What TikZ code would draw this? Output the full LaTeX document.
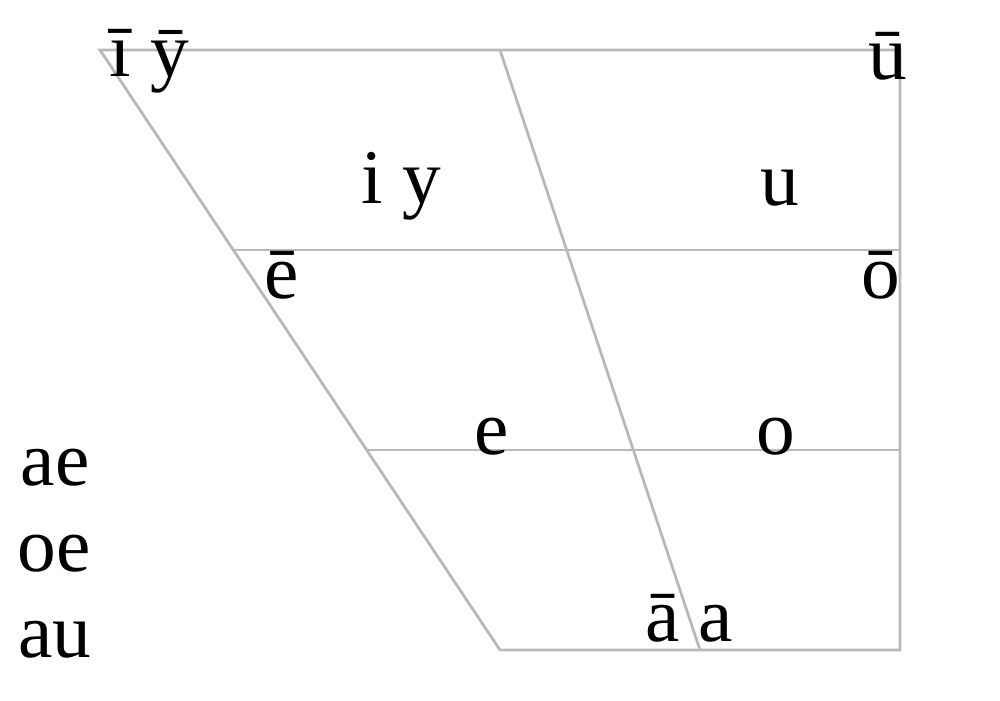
\documentclass[tikz,border=0pt]{standalone}
\usepackage{fontspec}
\setmainfont{Liberation Serif}
\usepackage{tikz}
\usetikzlibrary{positioning,calc}

\begin{document}
\begin{tikzpicture}[
    x=1cm,
    y=1cm,
    grid/.style={
      draw=gray!55,
      line width=0.8pt
    },
    vowel/.style={
      font=\fontsize{22}{26}\selectfont,
      anchor=base,
      inner sep=0pt
    }
  ]
  \useasboundingbox (0,0) rectangle (10,7);

  % ========== Chart corners ==========
  \coordinate (tl) at (1.0,6.5);
  \coordinate (tm) at (5.0,6.5);
  \coordinate (tr) at (9.0,6.5);
  \coordinate (br) at (9.0,0.5);
  \coordinate (bm) at (7.0,0.5);
  \coordinate (bl) at (5.0,0.5);

  \coordinate (ml) at ($(tl)!1/3!(bl)$);
  \coordinate (mr) at ($(tr)!1/3!(br)$);
  \coordinate (ll) at ($(tl)!2/3!(bl)$);
  \coordinate (lr) at ($(tr)!2/3!(br)$);

  \draw[grid] (tl) -- (tr) -- (br) -- (bl) -- cycle;
  \draw[grid] (tm) -- (bm);
  \draw[grid] (ml) -- (mr);
  \draw[grid] (ll) -- (lr);

  % ========== Vowels ==========
  \node[vowel] (iylong) at (1.49,6.24) {ī ȳ};
  \node[vowel] (ulong) at (8.88,6.21) {ū};
  \node[vowel] (iy) at (4.01,4.97) {i y};
  \node[vowel] (u) at (7.80,4.95) {u};
  \node[vowel] (elong) at (2.82,4.02) {ē};
  \node[vowel] (olong) at (8.81,4.02) {ō};
  \node[vowel] (e) at (4.92,2.46) {e};
  \node[vowel] (o) at (7.76,2.46) {o};
  \node[vowel] (aa) at (6.89,0.59) {ā a};

  % ========== Diphthongs ==========
  \node[vowel] (ae) at (0.55,2.15) {ae};
  \node[vowel] (oe) at (0.54,1.29) {oe};
  \node[vowel] (au) at (0.55,0.43) {au};
\end{tikzpicture}
\end{document}
